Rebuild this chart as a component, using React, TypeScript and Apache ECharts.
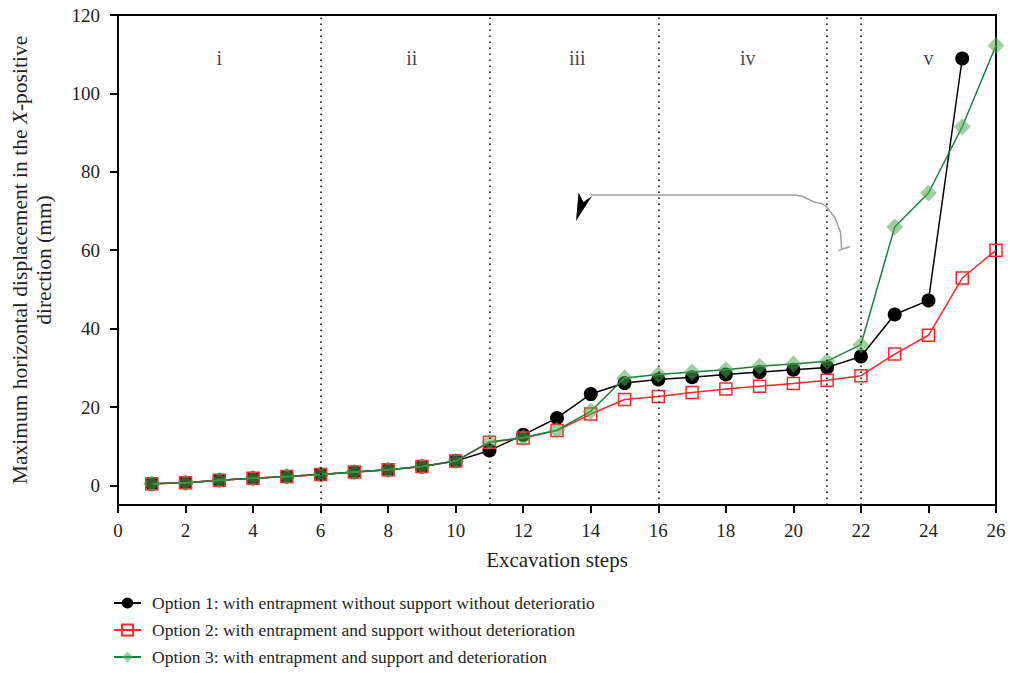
import React, { useEffect, useRef } from "react";
import * as echarts from "echarts";

const steps = [1, 2, 3, 4, 5, 6, 7, 8, 9, 10, 11, 12, 13, 14, 15, 16, 17, 18, 19, 20, 21, 22, 23, 24, 25, 26];
const option1 = [0.4, 0.7, 1.3, 1.8, 2.3, 2.8, 3.4, 4.0, 4.8, 6.2, 8.9, 12.9, 17.2, 23.3, 26.1, 27.0, 27.6, 28.3, 28.9, 29.5, 30.1, 32.9, 43.6, 47.2, 108.9];
const option2 = [0.4, 0.7, 1.3, 1.8, 2.3, 2.8, 3.4, 4.0, 4.8, 6.2, 11.0, 12.1, 14.0, 18.2, 21.9, 22.7, 23.7, 24.6, 25.3, 26.0, 26.8, 28.0, 33.5, 38.3, 52.9, 60.0];
const option3 = [0.4, 0.7, 1.3, 1.8, 2.3, 2.8, 3.4, 4.0, 4.8, 6.2, 11.1, 12.2, 14.1, 18.9, 27.4, 28.3, 28.9, 29.5, 30.4, 31.0, 31.7, 35.9, 65.9, 74.6, 91.5, 112.2];
const seriesNames = [
  "Option 1: with entrapment without support without deterioratio",
  "Option 2: with entrapment and support without deterioration",
  "Option 3: with entrapment and support and deterioration",
];
const stageBoundaries = [6, 11, 16, 21, 22];
const stageLabels = ["i", "ii", "iii", "iv", "v"];
const stageLabelX = [3, 8.7, 13.6, 18.65, 24];
const stageLabelY = 109;
const yTicks = [0, 20, 40, 60, 80, 100, 120];

const FONT = "'Liberation Serif', 'DejaVu Serif', serif";
const TXT = "#231f20";

const pairs = (vals: number[]) => vals.map((v, i) => [steps[i], v]);

export default function App() {
  const ref = useRef<HTMLDivElement>(null);
  useEffect(() => {
    if (!ref.current) return;
    const chart = echarts.init(ref.current, undefined, { renderer: "svg" });
    chart.setOption({
      animation: false,
      backgroundColor: "#fff",
      grid: {
        left: 116,
        right: 14,
        top: 15,
        bottom: 168,
        show: true,
        borderColor: "#000",
        borderWidth: 2,
        backgroundColor: "transparent",
      },
      xAxis: {
        type: "value",
        min: 0,
        max: 26,
        interval: 2,
        name: "Excavation steps",
        nameLocation: "middle",
        nameGap: 44,
        nameTextStyle: { fontFamily: FONT, fontSize: 21, color: TXT },
        axisLine: { show: true, onZero: false, lineStyle: { color: "#000", width: 2 } },
        axisTick: { show: true, inside: false, length: 8, lineStyle: { color: "#000", width: 2 } },
        axisLabel: { fontFamily: FONT, fontSize: 19, color: TXT, margin: 16 },
        splitLine: { show: false },
      },
      yAxis: {
        type: "value",
        min: -5,
        max: 120,
        name:
          "{a|Maximum horizontal displacement in the }{i|X}{a|-positive}\n{a|direction (mm)}",
        nameLocation: "middle",
        nameGap: 62,
        nameTextStyle: {
          fontFamily: FONT,
          fontSize: 21.5,
          color: TXT,
          lineHeight: 24,
          rich: {
            a: { fontFamily: FONT, fontSize: 21.5, color: TXT, lineHeight: 24 },
            i: { fontFamily: FONT, fontSize: 21.5, color: TXT, fontStyle: "italic", lineHeight: 24 },
          },
        },
        axisLine: { show: true, onZero: false, lineStyle: { color: "#000", width: 2 } },
        axisTick: { show: true, inside: false, length: 8, customValues: yTicks, lineStyle: { color: "#000", width: 2 } },
        axisLabel: { fontFamily: FONT, fontSize: 19, color: TXT, margin: 18, customValues: yTicks },
        splitLine: { show: false },
      },
      legend: {
        orient: "vertical",
        left: 113,
        top: 593,
        padding: 0,
        itemWidth: 27,
        itemHeight: 14,
        itemGap: 7,
        data: seriesNames,
        textStyle: { fontFamily: FONT, fontSize: 17.5, lineHeight: 20, color: TXT, padding: [0, 0, 0, 6] },
      },
      series: [
        {
          name: "stages",
          type: "scatter",
          data: stageLabels.map((s, i) => ({ value: [stageLabelX[i], stageLabelY], name: s })),
          symbolSize: 1,
          itemStyle: { color: "transparent" },
          silent: true,
          label: {
            show: true,
            position: "inside",
            formatter: (p: any) => p.name,
            fontFamily: FONT,
            fontSize: 20,
            color: "#111",
          },
          markLine: {
            silent: true,
            symbol: "none",
            label: { show: false },
            lineStyle: { color: "#000", width: 1.5, type: [1.5, 4.5] },
            data: stageBoundaries.map((x) => ({ xAxis: x })),
          },
          z: 1,
        },
        {
          name: seriesNames[0],
          type: "line",
          data: pairs(option1),
          symbol: "circle",
          symbolSize: 14,
          lineStyle: { color: "#000", width: 1.5 },
          itemStyle: { color: "#000" },
          z: 2,
        },
        {
          name: seriesNames[1],
          type: "line",
          data: pairs(option2),
          symbol: "rect",
          symbolSize: 12,
          lineStyle: { color: "#ff2626", width: 1.5 },
          itemStyle: { color: "rgba(255,255,255,0)", borderColor: "#ff2626", borderWidth: 1.5 },
          z: 3,
        },
        {
          name: seriesNames[2],
          type: "line",
          data: pairs(option3),
          symbol: "diamond",
          symbolSize: 17,
          lineStyle: { color: "#16813a", width: 1.5 },
          itemStyle: { color: "rgba(80,170,80,0.55)" },
          z: 4,
        },
      ],
      graphic: [
        {
          type: "polyline",
          shape: {
            points: [
              [841.7, 249],
              [840.5, 232],
              [834.5, 217],
              [826, 206],
              [821, 203.5],
              [814, 202],
              [803, 196.5],
              [795, 195],
              [591, 195],
            ],
          },
          style: { stroke: "#a0a0a0", lineWidth: 1.5, fill: "none" },
        },
        {
          type: "line",
          shape: { x1: 838.5, y1: 250.5, x2: 850, y2: 246.5 },
          style: { stroke: "#a0a0a0", lineWidth: 1.5 },
        },
        {
          type: "polygon",
          shape: {
            points: [
              [576, 221],
              [578.5, 192.5],
              [583.5, 202],
              [592, 196],
            ],
          },
          style: { fill: "#000" },
        },
      ],
    });
    return () => chart.dispose();
  }, []);
  return <div ref={ref} style={{ width: 1010, height: 673, position: "absolute", left: 0, top: 0 }} />;
}
